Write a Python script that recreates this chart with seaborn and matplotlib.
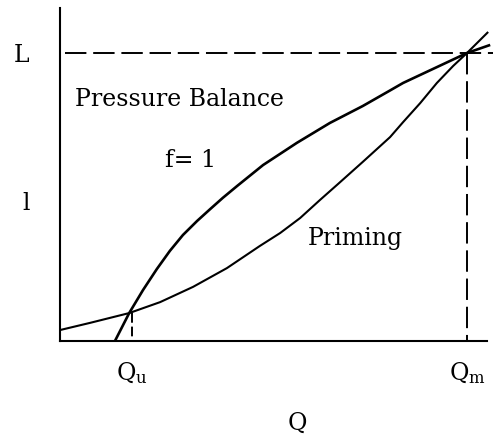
import matplotlib
matplotlib.use("Agg")
import matplotlib.pyplot as plt
import pandas as pd
import seaborn as sns

# Pressure-balance curve (f = 1): length L against flow Q, with Q normalised to Qm and L to 1
pressure_q = [0.135, 0.170, 0.204, 0.238, 0.270, 0.302, 0.337, 0.369, 0.400, 0.435,
              0.499, 0.582, 0.663, 0.744, 0.811, 0.843, 0.926, 1.000, 1.057]
pressure_l = [0.000, 0.097, 0.177, 0.250, 0.313, 0.368, 0.417, 0.458, 0.497, 0.538,
              0.611, 0.688, 0.757, 0.816, 0.870, 0.896, 0.951, 1.000, 1.028]

# Priming curve
priming_q = [0.000, 0.074, 0.170, 0.246, 0.327, 0.410, 0.491, 0.541, 0.590, 0.639,
             0.683, 0.744, 0.811, 0.843, 0.885, 0.926, 0.966, 1.000, 1.052]
priming_l = [0.038, 0.063, 0.097, 0.135, 0.188, 0.253, 0.330, 0.375, 0.427, 0.490,
             0.545, 0.622, 0.708, 0.760, 0.826, 0.896, 0.955, 1.000, 1.073]

# Marked flows and lengths
q_ticks = [0.177, 1.000]
q_labels = [r"$\mathregular{Q_u}$", r"$\mathregular{Q_m}$"]
l_ticks = [0.486, 1.000]
l_labels = ["l", "L"]
q_lower, q_upper = q_ticks
l_lower_cross = 0.097
l_max = 1.0

sns.set_theme(style="white")
plt.rcParams["font.family"] = ["DejaVu Serif"]
plt.rcParams["mathtext.fontset"] = "dejavuserif"
plt.rcParams["text.color"] = "black"
plt.rcParams["xtick.color"] = "black"
plt.rcParams["ytick.color"] = "black"
plt.rcParams["axes.labelcolor"] = "black"

fig = plt.figure(figsize=(4.98, 4.38), dpi=100)
ax = fig.add_axes([60 / 498, 97 / 438, 438 / 498, 333 / 438])

pressure = pd.DataFrame({"Q": pressure_q, "L": pressure_l})
priming = pd.DataFrame({"Q": priming_q, "L": priming_l})

line_kw = dict(sort=False, estimator=None, color="black", ax=ax,
               solid_joinstyle="round", solid_capstyle="butt")
sns.lineplot(data=pressure, x="Q", y="L", linewidth=1.9, **line_kw)
sns.lineplot(data=priming, x="Q", y="L", linewidth=1.5, **line_kw)

dash = (0, (11, 3.5))
ax.plot([0.012, 1.064], [l_max, l_max], color="black", linewidth=1.4, linestyle=dash)
ax.plot([q_upper, q_upper], [l_max, 0], color="black", linewidth=1.4, linestyle=dash)
ax.plot([q_lower, q_lower], [l_lower_cross, 0], color="black", linewidth=1.4,
        linestyle=(0, (5, 2)))

ax.set_xlim(0, 438 / 407)
ax.set_ylim(0, 333 / 288)

for side in ("top", "right"):
    ax.spines[side].set_visible(False)
for side in ("left", "bottom"):
    ax.spines[side].set_color("black")
    ax.spines[side].set_linewidth(1.5)
ax.spines["bottom"].set_bounds(0, 427 / 407)

fs = 17
ax.set_xticks(q_ticks, q_labels, fontsize=fs)
ax.set_yticks(l_ticks, l_labels, fontsize=fs)
ax.tick_params(axis="x", length=0, pad=14)
ax.tick_params(axis="y", length=0, pad=22)
ax.set_xlabel("Q", fontsize=fs)
ax.set_ylabel("")
ax.xaxis.set_label_coords(237 / 438, -0.212)

ax.text(0.037, 0.816, "Pressure Balance", fontsize=fs, ha="left", va="baseline")
ax.text(0.322, 0.604, "f= 1", fontsize=fs, ha="center", va="baseline")
ax.text(0.609, 0.333, "Priming", fontsize=fs, ha="left", va="baseline")

fig.savefig("out.png", dpi=100, facecolor="white")
